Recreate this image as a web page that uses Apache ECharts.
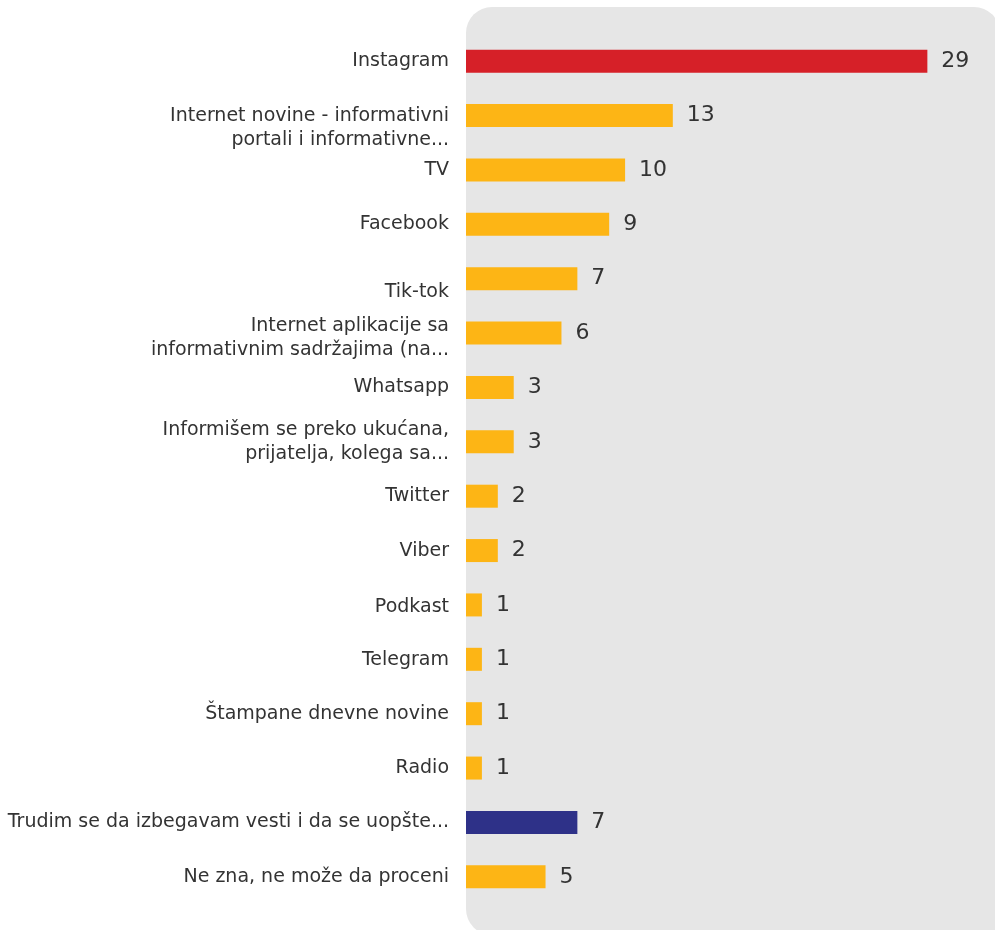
<!DOCTYPE html>
<html><head><meta charset="utf-8">
<script src="https://cdn.jsdelivr.net/npm/echarts@6/dist/echarts.min.js"></script>
<style>html,body{margin:0;padding:0;background:#fff}#c{width:995px;height:930px}</style>
</head><body><div id="c"></div>
<script>
var categories = [
  "Instagram",
  "Internet novine - informativni\nportali i informativne...",
  "TV",
  "Facebook",
  "Tik-tok",
  "Internet aplikacije sa\ninformativnim sadržajima (na...",
  "Whatsapp",
  "Informišem se preko ukućana,\nprijatelja, kolega sa...",
  "Twitter",
  "Viber",
  "Podkast",
  "Telegram",
  "Štampane dnevne novine",
  "Radio",
  "Trudim se da izbegavam vesti i da se uopšte...",
  "Ne zna, ne može da proceni"
];
var values = [29, 13, 10, 9, 7, 6, 3, 3, 2, 2, 1, 1, 1, 1, 7, 5];
var barColors = ["#d62028","#fdb515","#fdb515","#fdb515","#fdb515","#fdb515","#fdb515","#fdb515","#fdb515","#fdb515","#fdb515","#fdb515","#fdb515","#fdb515","#2e3188","#fdb515"];

// label vertical offsets as seen in the reference (style only)
var labelShift = {1: 12, 4: 13, 5: 5, 10: 2, 11: 1};
var FONT = 'DejaVu Sans';

var chart = echarts.init(document.getElementById('c'));
var rich = {n: {fontFamily: FONT, fontSize: 19, color: '#333', lineHeight: 24}};
Object.keys(labelShift).forEach(function (k) {
  rich['sp' + k] = {fontSize: 1, lineHeight: labelShift[k] * 2, color: 'rgba(0,0,0,0)'};
});

chart.setOption({
  animation: false,
  graphic: [{
    type: 'rect', z: -10, silent: true,
    shape: {x: 466, y: 7, width: 534, height: 928, r: [26, 26, 0, 26]},
    style: {fill: '#e6e6e6'}
  }],
  grid: {left: 466, top: 34, width: 525, height: 870, containLabel: false},
  xAxis: {type: 'value', min: 0, max: 33, show: false},
  yAxis: {
    type: 'category', inverse: true, data: categories,
    axisLine: {show: false}, axisTick: {show: false}, splitLine: {show: false},
    axisLabel: {
      margin: 17, interval: 0, align: 'right',
      fontFamily: FONT, fontSize: 19, color: '#333', lineHeight: 24,
      rich: rich,
      formatter: function (v, i) {
        var out = v.split('\n').map(function (l) { return '{n|' + l + '}'; });
        if (labelShift[i]) out.unshift('{sp' + i + '| }');
        return out.join('\n');
      }
    }
  },
  series: [{
    type: 'bar', barWidth: 23,
    data: values.map(function (v, i) { return {value: v, itemStyle: {color: barColors[i]}}; }),
    label: {show: true, position: 'right', distance: 14, fontFamily: FONT, fontSize: 22, color: '#333'}
  }]
});
</script></body></html>
